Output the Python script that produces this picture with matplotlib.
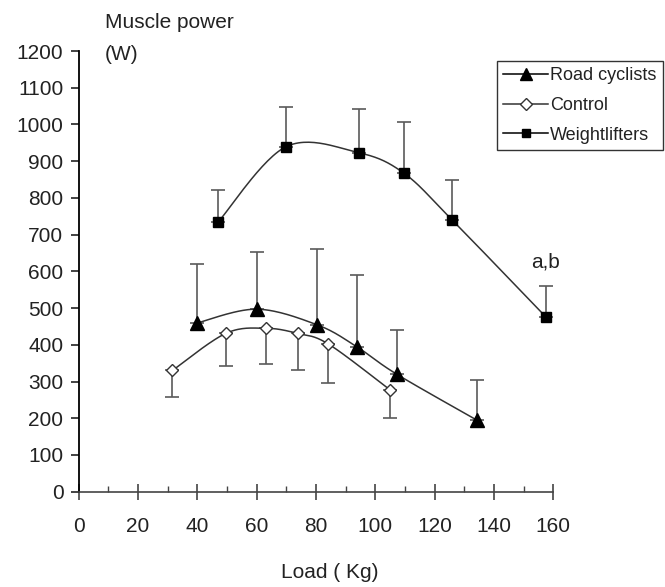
import numpy as np
import matplotlib.pyplot as plt
from matplotlib.ticker import MultipleLocator

plt.rcParams['font.family'] = ['Liberation Sans', 'DejaVu Sans']

# load (kg), mean power (W) and SD for each group
cyc_load = [39.8, 60.0, 80.5, 93.7, 107.2, 134.2]
cyc_power = [459, 497, 454, 395, 320, 195]
cyc_sd = [160, 155, 206, 195, 120, 109]

ctl_load = [31.6, 49.6, 63.0, 73.8, 84.2, 105.0]
ctl_power = [330, 431, 445, 431, 402, 277]
ctl_sd = [73, 88, 97, 100, 107, 77]

wl_load = [47.1, 69.8, 94.4, 109.7, 125.9, 157.6]
wl_power = [735, 939, 923, 867, 740, 475]
wl_sd = [86, 109, 118, 141, 109, 85]


def smooth(x, y, n=30, sx=2.966, sy=0.3672):
    # bezier smoothing like a spreadsheet "smoothed line" (catmull-rom tangents)
    p = np.column_stack([np.asarray(x) * sx, np.asarray(y) * sy])
    pts = []
    for i in range(len(p) - 1):
        p0 = p[i - 1] if i > 0 else p[i]
        p1, p2 = p[i], p[i + 1]
        p3 = p[i + 2] if i + 2 < len(p) else p[i + 1]
        c1 = p1 + (p2 - p0) / 6
        c2 = p2 - (p3 - p1) / 6
        t = np.linspace(0, 1, n)[:, None]
        seg = ((1 - t) ** 3) * p1 + 3 * ((1 - t) ** 2) * t * c1 + 3 * (1 - t) * t ** 2 * c2 + t ** 3 * p2
        pts.append(seg)
    pts = np.vstack(pts)
    return pts[:, 0] / sx, pts[:, 1] / sy


fig = plt.figure(figsize=(6.65, 5.87), dpi=100)
ax = fig.add_axes([0.1183, 0.1624, 0.7137, 0.7507])

line_c = '#333333'
err_c = '#5a5a5a'
txt_c = '#222222'
fs = 15

# error bars: SD up for cyclists / weightlifters, down for controls
ax.errorbar(cyc_load, cyc_power, yerr=[np.zeros(len(cyc_sd)), cyc_sd], fmt='none',
            ecolor=err_c, elinewidth=1.2, capsize=5, capthick=1.2, zorder=1)
ax.errorbar(wl_load, wl_power, yerr=[np.zeros(len(wl_sd)), wl_sd], fmt='none',
            ecolor=err_c, elinewidth=1.2, capsize=5, capthick=1.2, zorder=1)
ax.errorbar(ctl_load, ctl_power, yerr=[ctl_sd, np.zeros(len(ctl_sd))], fmt='none',
            ecolor=err_c, elinewidth=1.2, capsize=5, capthick=1.2, zorder=1)

for load, power in [(cyc_load, cyc_power), (ctl_load, ctl_power), (wl_load, wl_power)]:
    sx, sy = smooth(load, power)
    ax.plot(sx, sy, color=line_c, lw=1.1, zorder=2)

ax.plot(cyc_load, cyc_power, ls='none', marker='^', ms=10, color='black', zorder=3)
ax.plot(ctl_load, ctl_power, ls='none', marker='D', ms=6.5, mfc='white', mec=line_c, mew=1.0, zorder=3)
ax.plot(wl_load, wl_power, ls='none', marker='s', ms=7, color='black', zorder=3)

# legend entries
h1, = ax.plot([], [], color='black', lw=1.1, marker='^', ms=9)
h2, = ax.plot([], [], color=line_c, lw=1.1, marker='D', ms=6, mfc='white', mec=line_c)
h3, = ax.plot([], [], color='black', lw=1.1, marker='s', ms=6)
leg = ax.legend([h1, h2, h3], ['Road cyclists', 'Control', 'Weightlifters'],
                loc='upper left', bbox_to_anchor=(497 / 665, 1 - 61 / 587),
                bbox_transform=fig.transFigure,
                frameon=True, fancybox=False, edgecolor='black', fontsize=13,
                handlelength=2.5, handletextpad=0.1, borderpad=0.35, labelspacing=0.7,
                borderaxespad=0)
leg.get_frame().set_linewidth(1.0)
for t in leg.get_texts():
    t.set_color(txt_c)

ax.set_xlim(0, 160)
ax.set_ylim(0, 1200)
ax.xaxis.set_major_locator(MultipleLocator(20))
ax.xaxis.set_minor_locator(MultipleLocator(10))
ax.yaxis.set_major_locator(MultipleLocator(100))

for s in ['top', 'right']:
    ax.spines[s].set_visible(False)
ax.spines['left'].set_color('black')
ax.spines['bottom'].set_color('#444444')
ax.spines['bottom'].set_linewidth(1.2)
ax.spines['left'].set_linewidth(1.3)

ax.tick_params(axis='y', direction='out', length=6, width=1.2, labelsize=fs, pad=5, colors=txt_c)
ax.tick_params(axis='x', which='major', direction='inout', length=12, width=1.2, labelsize=fs, pad=12,
               colors='#444444', labelcolor=txt_c)
ax.tick_params(axis='x', which='minor', direction='in', length=4, width=1.0, colors='#444444')

fig.text(105 / 665, 1 - 22 / 587, 'Muscle power', fontsize=fs, color=txt_c, va='center', ha='left')
fig.text(105 / 665, 1 - 55 / 587, '(W)', fontsize=fs, color=txt_c, va='center', ha='left')
ax.text(157.5, 625, 'a,b', fontsize=fs, color=txt_c, ha='center', va='center')
fig.text(330 / 665, 1 - 573 / 587, 'Load ( Kg)', fontsize=fs, color=txt_c, ha='center', va='center')

fig.savefig('out.png', dpi=100)
